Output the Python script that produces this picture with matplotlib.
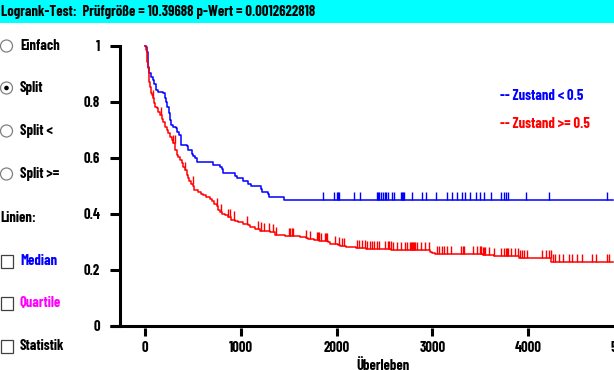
import numpy as np
import matplotlib
matplotlib.use('Agg')
from matplotlib import pyplot as plt
from matplotlib.patches import Rectangle, Circle
from matplotlib.transforms import IdentityTransform

plt.rcParams['font.family'] = ['Barlow Condensed', 'DejaVu Sans']
plt.rcParams['font.weight'] = 'bold'
fs = 10.5

title = "Logrank-Test:  Prüfgröße = 10.39688 p-Wert = 0.0012622818"

# Kaplan-Meier Stufen, Zustand < 0.5 (blau)
blue_t = [0, 7, 17, 28, 35, 45, 63, 80, 97, 111, 139, 191, 209, 219, 233, 248, 261, 271, 295, 320,
          331, 358, 376, 435, 453, 488, 505, 522, 546, 714, 783, 801, 818, 940, 963, 1026, 1078, 1103,
          1211, 1218, 1281, 1298, 1455]
blue_s = [1.0, 0.996, 0.979, 0.943, 0.925, 0.901, 0.889, 0.877, 0.865, 0.842, 0.836, 0.830, 0.812,
          0.800, 0.782, 0.758, 0.734, 0.717, 0.711, 0.705, 0.693, 0.681, 0.645, 0.641, 0.627, 0.615,
          0.605, 0.598, 0.584, 0.575, 0.567, 0.558, 0.546, 0.536, 0.528, 0.516, 0.507, 0.498, 0.489,
          0.478, 0.469, 0.461, 0.449]
blue_cens = [1861, 1976, 2008, 2018, 2028, 2185, 2248, 2425, 2436, 2446, 2464, 2488, 2500, 2516, 2534,
             2576, 2596, 2673, 2683, 2694, 2707, 2791, 2895, 2937, 3041, 3156, 3205, 3260, 3313, 3344,
             3396, 3459, 3497, 3542, 3615, 3720, 3751, 3772, 3793, 3981, 4221, 4826]

# Zustand >= 0.5 (rot)
red_t = [0, 7, 17, 24, 31, 38, 45, 56, 63, 73, 80, 94, 107, 122, 139, 157, 174, 191, 209, 226,
         243, 261, 279, 295, 313, 331, 348, 365, 383, 400, 418, 435, 453, 463, 481, 505, 516, 557,
         585, 609, 634, 679, 697, 721, 749, 766, 783, 807, 835, 870, 898, 940, 974, 1026, 1078, 1096,
         1148, 1200, 1235, 1305, 1357, 1409, 1462, 1618, 1681, 1702, 1767, 1820, 1907, 1931, 2018,
         2036, 2098, 2203, 2307, 2568, 2975, 2999, 3028, 3526, 3644, 3905, 4239]
red_s = [1.0, 0.985, 0.967, 0.943, 0.919, 0.895, 0.871, 0.854, 0.830, 0.824, 0.812, 0.794, 0.782,
         0.776, 0.764, 0.752, 0.740, 0.729, 0.710, 0.699, 0.687, 0.675, 0.663, 0.651, 0.628, 0.610,
         0.601, 0.592, 0.580, 0.568, 0.556, 0.538, 0.529, 0.517, 0.507, 0.498, 0.486, 0.477, 0.471,
         0.465, 0.458, 0.452, 0.444, 0.435, 0.426, 0.414, 0.406, 0.399, 0.394, 0.387, 0.379, 0.373,
         0.369, 0.363, 0.358, 0.351, 0.345, 0.340, 0.337, 0.333, 0.325, 0.323, 0.319, 0.316, 0.312,
         0.309, 0.305, 0.301, 0.298, 0.293, 0.287, 0.284, 0.280, 0.276, 0.273, 0.269, 0.264, 0.261,
         0.256, 0.2525, 0.248, 0.242, 0.2275]
red_cens = [80, 167, 295, 308, 418, 504, 755, 793, 870, 891, 929, 1068, 1183, 1211, 1246, 1298, 1339,
            1368, 1506, 1517, 1538, 1548, 1681, 1723, 1796, 1806, 1817, 1834, 1879, 1890, 1903, 1984,
            2028, 2057, 2078, 2213, 2231, 2262, 2294, 2321, 2349, 2370, 2394, 2419, 2443, 2506, 2537,
            2550, 2565, 2592, 2628, 2673, 2714, 2738, 2767, 2777, 2788, 2798, 2809, 2819, 2843, 2878,
            2923, 2968, 3052, 3069, 3098, 3122, 3156, 3192, 3299, 3315, 3330, 3421, 3463, 3497, 3511,
            3526, 3539, 3550, 3595, 3644, 3717, 3748, 3764, 3779, 3793, 3818, 3863, 3897, 3915, 3933,
            3957, 3985, 4148, 4186, 4221, 4236, 4263, 4280, 4325, 4367, 4427, 4461, 4513, 4559, 4670,
            4712, 4820, 4847]
t_end = 4890

x_ticks = [0, 1000, 2000, 3000, 4000, 5000]
y_ticks = [0, 0.2, 0.4, 0.6, 0.8, 1]
y_labels = ['0', '0.2', '0.4', '0.6', '0.8', '1']

W, H = 614, 370
fig = plt.figure(figsize=(W / 100, H / 100), dpi=100)

# cyan Titelleiste
fig.patches.append(Rectangle((0, 1 - 23 / H), 1, 23 / H, transform=fig.transFigure,
                             facecolor='#00ffff', edgecolor='none'))
fig.text(1 / W, 1 - 12 / H, title, fontsize=fs, va='center', ha='left', color='black')

# linke Bedienleiste
def px(x, y):
    return x / W, 1 - y / H

radios = [('Einfach', 46, False), ('Split', 88, True), ('Split <', 131, False), ('Split >=', 174, False)]
for lab, yy, sel in radios:
    c = Circle((6.5, H - yy), 6, transform=IdentityTransform(), facecolor='white',
               edgecolor='#808080', lw=0.9)
    fig.patches.append(c)
    if sel:
        fig.patches.append(Circle((6.5, H - yy), 2.3, transform=IdentityTransform(),
                                  facecolor='black', edgecolor='none'))
    fig.text(*px(20, yy), lab, fontsize=fs, va='center', ha='left')

fig.text(*px(0, 218), 'Linien:', fontsize=fs, va='center', ha='left')
checks = [('Median', 261, '#0000ff'), ('Quartile', 303, '#ff00ff'), ('Statistik', 346, 'black')]
for lab, yy, col in checks:
    fig.patches.append(Rectangle((0.5, H - yy - 6.5), 12.5, 12.5, transform=IdentityTransform(),
                                 facecolor='white', edgecolor='#404040', lw=0.9))
    fig.text(*px(20, yy), lab, fontsize=fs, va='center', ha='left', color=col)

# Plotbereich
ax = fig.add_axes([120 / W, (H - 325.7) / H, 504 / W, 280 / H])
ax.set_xlim(-261, 5000)
ax.set_ylim(0, 1)
for s in ['top', 'right']:
    ax.spines[s].set_visible(False)
ax.spines['left'].set_linewidth(2.2)
ax.spines['bottom'].set_position(('outward', 2))
ax.spines['bottom'].set_visible(False)
ax.plot([-10 / 504, 1], [0, 0], transform=ax.transAxes, color='black', lw=2.2,
        clip_on=False, solid_capstyle='butt')

ax.set_xticks(x_ticks)
ax.set_yticks(y_ticks)
ax.set_yticklabels(y_labels)
ax.tick_params(axis='y', length=7.2, width=2.2, pad=7, labelsize=fs)
ax.tick_params(axis='x', length=5.8, width=2.2, pad=3, labelsize=fs)

def km(t, s, cens, col):
    t = np.array(t + [t_end])
    s = np.array(s + [s[-1]])
    ax.step(t, s, where='post', color=col, lw=1.1, clip_on=False)
    cens = np.array(cens)
    yc = s[np.searchsorted(t, cens, side='right') - 1]
    ax.vlines(cens, yc, yc + 0.029, color=col, lw=1.0)

km(blue_t, blue_s, blue_cens, '#0000ff')
km(red_t, red_s, red_cens, '#ff0000')

fig.text(*px(500, 96), '-- Zustand < 0.5', color='#0000ff', fontsize=fs, va='center', ha='left')
fig.text(*px(500, 124), '-- Zustand >= 0.5', color='#ff0000', fontsize=fs, va='center', ha='left')
fig.text(*px(383, 359), 'Überleben', fontsize=fs, va='top', ha='center')

fig.savefig('out.png', dpi=100, facecolor='white')
